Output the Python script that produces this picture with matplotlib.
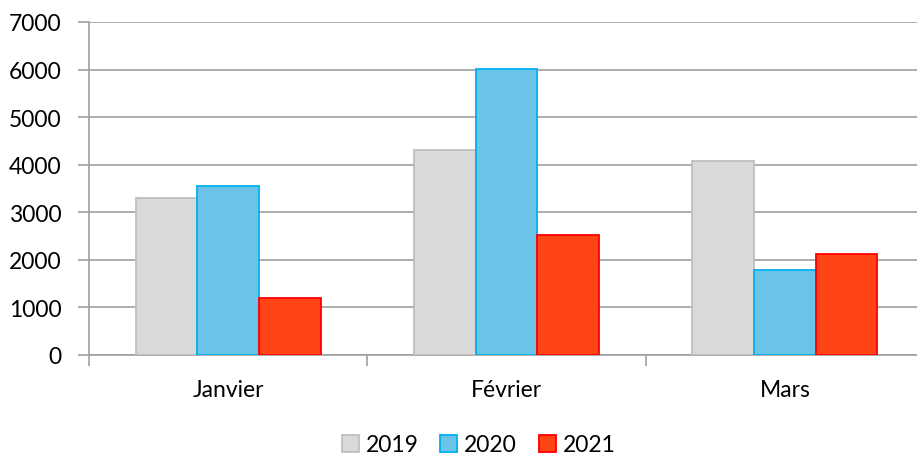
import matplotlib
matplotlib.use('Agg')
import matplotlib.pyplot as plt
import numpy as np

# Données
mois = ['Janvier', 'Février', 'Mars']
annees = ['2019', '2020', '2021']
v2019 = [3300, 4300, 4070]
v2020 = [3550, 6020, 1780]
v2021 = [1200, 2530, 2120]

plt.rcParams['font.family'] = ['Lato', 'DejaVu Sans']

fig = plt.figure(figsize=(9.17, 4.56), dpi=100)
ax = fig.add_axes([0.0971, 0.2193, 0.9105, 0.7303])

x = np.arange(len(mois))
w = 0.222
fills = ['#D9D9D9', '#6BC3E8', '#FF4515']
edges = ['#BFBFBF', '#00B0F0', '#FF0000']
for i, (vals, lab) in enumerate(zip([v2019, v2020, v2021], annees)):
    ax.bar(x + (i - 1) * w, vals, w, color=fills[i], edgecolor=edges[i],
           linewidth=1.3, label=lab, zorder=3)

ax.set_xlim(-0.5, 2.5)
ax.set_ylim(0, 7000)
ax.set_yticks(range(0, 7001, 1000))
ax.yaxis.grid(True, color='#A0A0A0', linewidth=1.2, zorder=0)
ax.set_xticks(x)
ax.set_xticklabels(mois)
ax.set_xticks([-0.5, 0.5, 1.5], minor=True)
ax.tick_params(axis='x', which='major', length=0, pad=17, labelsize=16.5)
ax.tick_params(axis='x', which='minor', length=8, color='#A0A0A0', width=1.2)
ax.tick_params(axis='y', length=8, color='#A0A0A0', width=1.2, pad=12, labelsize=16.5)

for s in ['top', 'right']:
    ax.spines[s].set_visible(False)
for s in ['left', 'bottom']:
    ax.spines[s].set_color('#A0A0A0')
    ax.spines[s].set_linewidth(1.2)

fig.legend(loc='center', bbox_to_anchor=(0.522, 0.022), ncol=3, frameon=False,
           fontsize=16.5, handlelength=0.75, handleheight=0.75, handletextpad=0.3,
           columnspacing=0.95)

fig.savefig('out.png', dpi=100)
